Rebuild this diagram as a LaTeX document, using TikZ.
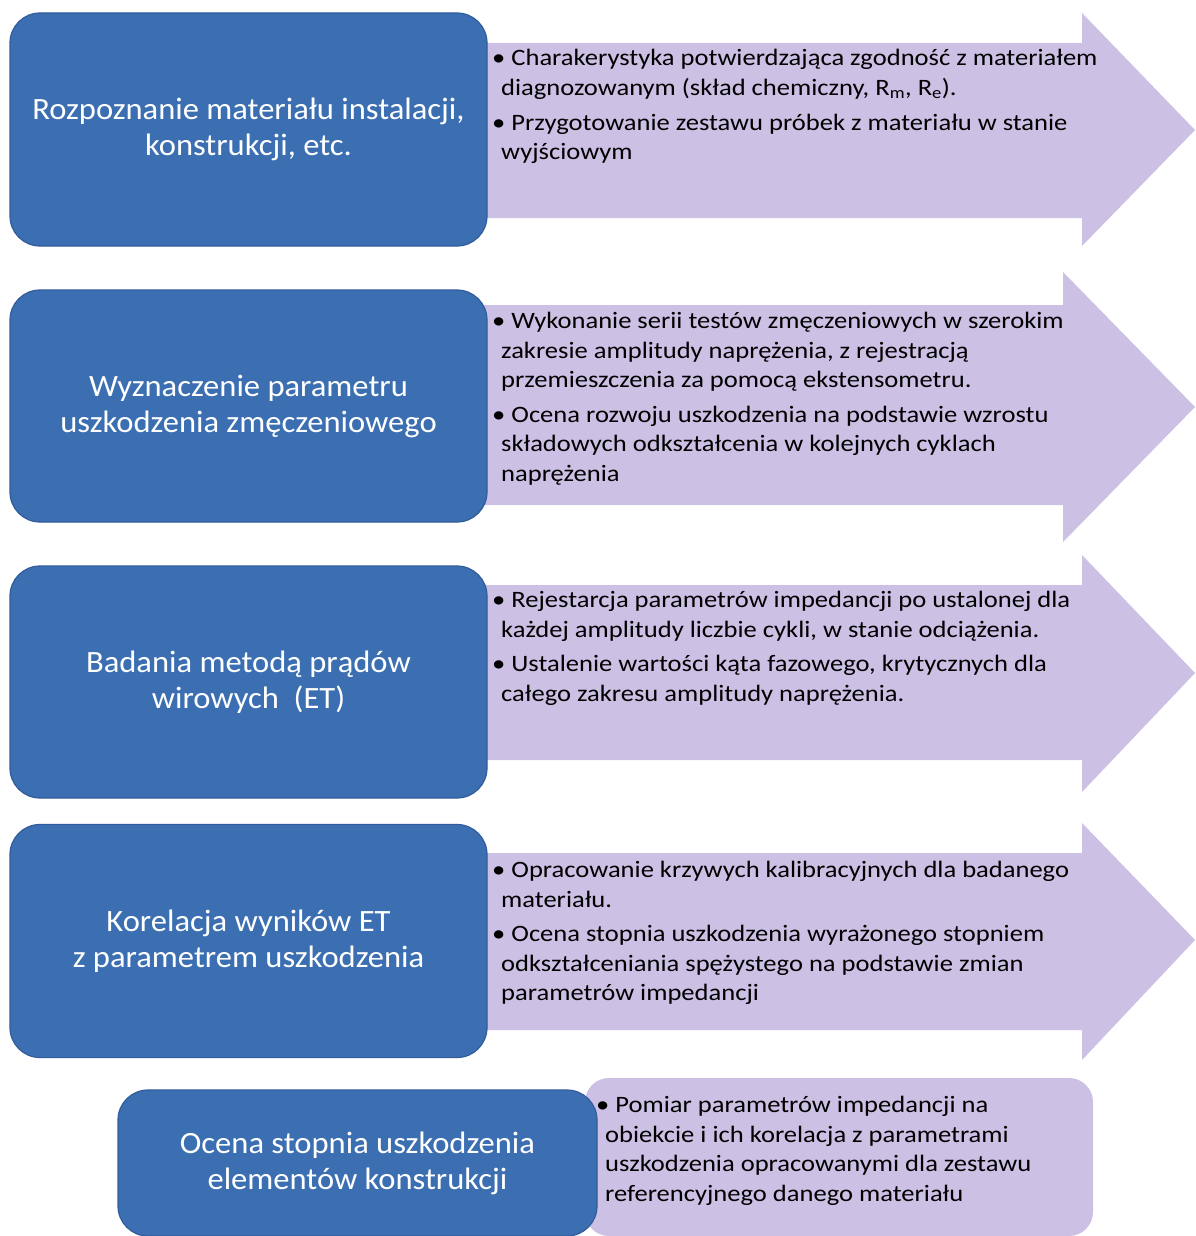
\documentclass[tikz,border=0pt]{standalone}
\usepackage{fontspec}
\setmainfont{Carlito}
\newfontfamily\notefont[FakeStretch=1.13]{Carlito}
\newfontfamily\stagefont[FakeStretch=1.05]{Carlito}
\definecolor{stageblue}{RGB}{60,111,178}
\definecolor{stageedge}{RGB}{48,92,156}
\definecolor{notelilac}{RGB}{204,192,228}
\newcommand{\pt}{\hspace*{-9pt}\textbullet\ }
\begin{document}
\begin{tikzpicture}[x=1pt,y=-1pt,
    stage/.style={draw=stageedge,line width=1.2pt,fill=stageblue,rounded corners=30pt,
      text=white,align=center,font=\stagefont\fontsize{31}{36}\selectfont},
    flow/.style={fill=notelilac},
    notes/.style={anchor=north west,inner sep=0pt,align=left,
      font=\notefont\fontsize{23.5}{29.5}\selectfont}]
  \useasboundingbox[fill=white] (0,0) rectangle (1195,1236);
  % lilac arrows
  \fill[flow] (480,43) -- (1082,43) -- (1082,13) -- (1195,130) -- (1082,246) -- (1082,218) -- (480,218) -- cycle;
  \fill[flow] (480,305) -- (1063,305) -- (1063,272) -- (1195,407) -- (1063,542) -- (1063,505) -- (480,505) -- cycle;
  \fill[flow] (480,585) -- (1082,585) -- (1082,555) -- (1195,673) -- (1082,792) -- (1082,760) -- (480,760) -- cycle;
  \fill[flow] (480,853) -- (1082,853) -- (1082,823) -- (1195,940) -- (1082,1060) -- (1082,1030) -- (480,1030) -- cycle;
  \node[flow,rounded corners=24pt,minimum width=508pt,minimum height=158pt] (n5) at (839,1157) {};
  % stages
  \node[stage,minimum width=477pt,minimum height=233pt] (s1) at (248.5,129.5)
    {Rozpoznanie materiału instalacji,\\konstrukcji, etc.};
  \node[stage,minimum width=477pt,minimum height=232pt] (s2) at (248.5,406)
    {Wyznaczenie parametru\\uszkodzenia zmęczeniowego};
  \node[stage,minimum width=477pt,minimum height=232pt] (s3) at (248.5,682)
    {Badania metodą prądów\\wirowych\ \ (ET)};
  \node[stage,minimum width=477pt,minimum height=233pt] (s4) at (248.5,941)
    {Korelacja wyników ET\\z parametrem uszkodzenia};
  \node[stage,minimum width=479pt,minimum height=146pt] (s5) at (357.5,1163)
    {Ocena stopnia uszkodzenia\\elementów konstrukcji};
  % notes
  \node[notes] (t1) at (501,49) {\pt Charakerystyka potwierdzająca zgodność z materiałem\\
    diagnozowanym (skład chemiczny, R\textsubscript{m}, R\textsubscript{e}).\\[5.5pt]
    \pt Przygotowanie zestawu próbek z materiału w stanie\\wyjściowym};
  \node[notes] (t2) at (501,312) {\pt Wykonanie serii testów zmęczeniowych w szerokim\\
    zakresie amplitudy naprężenia, z rejestracją\\
    przemieszczenia za pomocą ekstensometru.\\[5pt]
    \pt Ocena rozwoju uszkodzenia na podstawie wzrostu\\
    składowych odkształcenia w kolejnych cyklach\\naprężenia};
  \node[notes] (t3) at (501,591) {\pt Rejestarcja parametrów impedancji po ustalonej dla\\
    każdej amplitudy liczbie cykli, w stanie odciążenia.\\[5pt]
    \pt Ustalenie wartości kąta fazowego, krytycznych dla\\
    całego zakresu amplitudy naprężenia.};
  \node[notes] (t4) at (501,861) {\pt Opracowanie krzywych kalibracyjnych dla badanego\\
    materiału.\\[5pt]
    \pt Ocena stopnia uszkodzenia wyrażonego stopniem\\
    odkształceniania spężystego na podstawie zmian\\parametrów impedancji};
  \node[notes] (t5) at (605,1096) {\pt Pomiar parametrów impedancji na\\
    obiekcie i ich korelacja z parametrami\\
    uszkodzenia opracowanymi dla zestawu\\referencyjnego danego materiału};
\end{tikzpicture}
\end{document}
